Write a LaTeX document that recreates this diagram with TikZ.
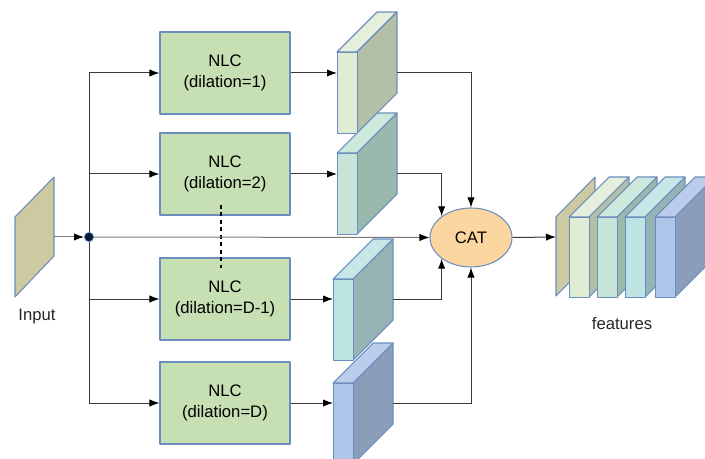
\documentclass[tikz,border=0pt]{standalone}
\usepackage{fontspec}
\setmainfont{Liberation Sans}
\usetikzlibrary{arrows.meta,calc,shapes.geometric}

\definecolor{edgeblue}{HTML}{6C8EBF}
\definecolor{wire}{HTML}{3A3A3A}
\definecolor{softwire}{HTML}{7A7A7A}
\definecolor{nlcfill}{HTML}{C6E0B4}
\definecolor{catfill}{HTML}{FCD6A0}
\definecolor{tan}{HTML}{CDC9A1}
\definecolor{dotfill}{HTML}{0B1A38}
% slab colours: front / top / side
\definecolor{gF}{HTML}{E0EDD5}\definecolor{gT}{HTML}{E6EFDC}\definecolor{gS}{HTML}{B4BFA7}
\definecolor{mF}{HTML}{C6E5D8}\definecolor{mT}{HTML}{CDE8DD}\definecolor{mS}{HTML}{9BB8AD}
\definecolor{cF}{HTML}{BDE3E3}\definecolor{cT}{HTML}{C8E8E8}\definecolor{cS}{HTML}{96B4B5}
\definecolor{bF}{HTML}{ADC5E8}\definecolor{bT}{HTML}{BCCDEB}\definecolor{bS}{HTML}{8A9EBA}

\tikzset{
  edge/.style={draw=edgeblue, line width=0.8pt, line join=round},
  nlc/.style={edge, fill=nlcfill, minimum width=97.5pt, minimum height=61.5pt,
              inner sep=0pt, align=center, font=\fontsize{12.5}{15.5}\selectfont},
  catnode/.style={edge, fill=catfill, ellipse, minimum width=61.5pt, minimum height=44.25pt,
              inner sep=0pt, font=\fontsize{12.5}{15}\selectfont},
  link/.style={draw=wire, line width=0.75pt},
  arr/.style={link, -{Latex[length=7.5pt,width=5.5pt,color=black]}},
  lbl/.style={font=\fontsize{12.5}{15}\selectfont, text=black!85},
}

% 3-D slab: name, front-left x, front-top y, height, front, top, side colours
\newcommand\slab[7]{%
  \filldraw[edge, fill=#6] (#2,#3) -- ++(40,-40) -- ++(20,0) -- ++(-40,40) -- cycle;
  \filldraw[edge, fill=#7] (#2+20,#3) -- ++(40,-40) -- ++(0,#4) -- ++(-40,40) -- cycle;
  \node[edge, fill=#5, minimum width=15pt, minimum height=#4*0.75pt, inner sep=0pt,
        anchor=north west] (#1) at (#2,#3) {};
  \coordinate (#1r) at (#2+60,#3-40);
}

\begin{document}
\begin{tikzpicture}[x=0.75pt, y=-0.75pt]
\useasboundingbox (0,0) rectangle (705,459);

% input sheet
\filldraw[edge, fill=tan] (15,217) -- (54,177) -- (54,256) -- (15,297) -- cycle;
\coordinate (inp) at (54,237);
\node[lbl] (inlbl) at (37,316) {Input};

% NLC blocks
\node[nlc] (n1) at (225,73)  {NLC\\(dilation=1)};
\node[nlc] (n2) at (225,174) {NLC\\(dilation=2)};
\node[nlc] (n3) at (225,299) {NLC\\(dilation=D-1)};
\node[nlc] (n4) at (225,403) {NLC\\(dilation=D)};

\coordinate (btop) at (89,73);
\coordinate (bbot) at (89,403);
\draw[link] (btop) -- (bbot);
\foreach \n in {n1,n2,n3,n4}{\draw[arr] (btop |- \n) -- (\n.west);}

% elided branches
\coordinate (ela) at (221,205);
\coordinate (elb) at (221,268);
\draw[black, line width=1.8pt, dash pattern=on 3pt off 2.6pt] (ela) -- (elb);

% branch outputs
\slab{s1}{337}{52}{81}{gF}{gT}{gS}
\slab{s2}{337}{153}{81}{mF}{mT}{mS}
\slab{s3}{333}{279}{81}{cF}{cT}{cS}
\slab{s4}{333}{383}{81}{bF}{bT}{bS}

% concatenation
\node[catnode] (cat) at (471,237.5) {CAT};

% branching point
\node[circle, draw=edgeblue, fill=dotfill, line width=0.5pt, inner sep=0pt,
      minimum size=7pt] (dot) at (89,237) {};
\draw[arr, draw=softwire] (inp) -- (dot.west);
\draw[arr, draw=softwire] (dot.east) -- (cat.west);

\foreach \i in {1,2,3,4}{\draw[arr] (n\i.east) -- (n\i -| s\i.west);}
\draw[arr] (s1r |- n1) -| (cat.north);
\draw[arr] (s2r |- n2) -| (cat.north west);
\draw[arr] (s3r |- n3) -| (cat.south west);
\draw[arr] (s4r |- n4) -| (cat.south);

% concatenated feature stack
\filldraw[edge, fill=tan] (556,217) -- (595,177) -- (595,256) -- (556,296) -- cycle;
\coordinate (fin) at (556,237);
\slab{f1}{569}{217}{80}{gF}{gT}{gS}
\slab{f2}{597}{217}{80}{mF}{mT}{mS}
\slab{f3}{625}{217}{80}{cF}{cT}{cS}
\slab{f4}{655}{217}{80}{bF}{bT}{bS}
\draw[arr] (cat.east) -- (fin);
\node[lbl] (flbl) at (622,324) {features};
\end{tikzpicture}
\end{document}
